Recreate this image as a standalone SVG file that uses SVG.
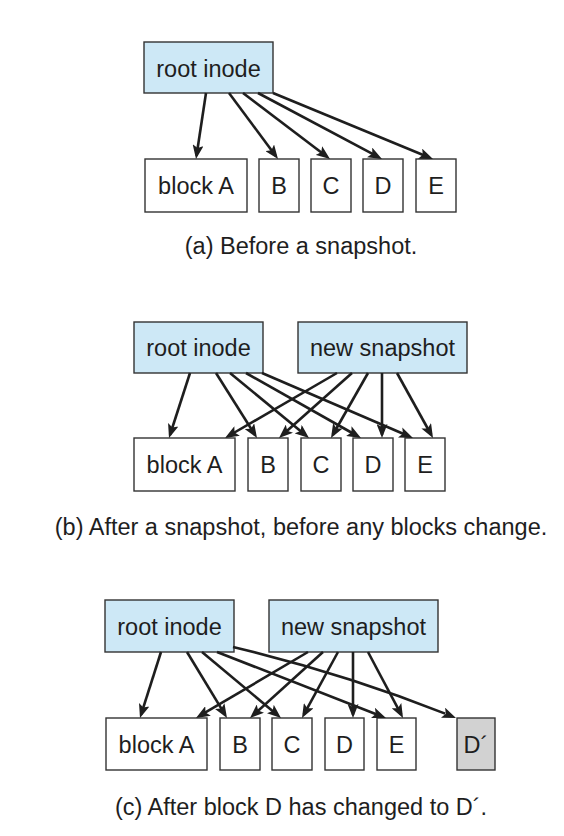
<svg xmlns="http://www.w3.org/2000/svg" width="564" height="836" viewBox="0 0 564 836">
<style>
.box{fill:#ffffff;stroke:#333333;stroke-width:1.4}
.blue{fill:#cde8f6;stroke:#333333;stroke-width:1.4}
.gray{fill:#d2d2d2;stroke:#333333;stroke-width:1.4}
text{font-family:"Liberation Sans",Arial,Helvetica,sans-serif;font-size:23.5px;fill:#1e1e1e;text-anchor:middle}
.c{fill:none;stroke:#1e1e1e;stroke-width:2.6;stroke-dasharray:95 100;marker-end:url(#ah)}
</style>
<defs>
<marker id="ah" markerUnits="userSpaceOnUse" markerWidth="14" markerHeight="11" refX="14" refY="5.5" orient="auto" viewBox="0 0 14 11">
<path d="M0,0 L14,5.5 L0,11 L3,5.5 Z" fill="#1e1e1e"/>
</marker>
</defs>
<rect width="564" height="836" fill="#ffffff"/>

<!-- (a) -->
<g id="a-root"><rect class="blue" x="144" y="42" width="129" height="51"/><text x="208.5" y="76.5">root inode</text></g>
<g id="a-blockA"><rect class="box" x="145" y="159" width="102" height="53"/><text x="196" y="194">block A</text></g>
<g id="a-B"><rect class="box" x="259" y="159" width="40" height="53"/><text x="279" y="194">B</text></g>
<g id="a-C"><rect class="box" x="311" y="159" width="40" height="53"/><text x="331" y="194">C</text></g>
<g id="a-D"><rect class="box" x="363" y="159" width="40" height="53"/><text x="383" y="194">D</text></g>
<g id="a-E"><rect class="box" x="416" y="159" width="40" height="53"/><text x="436" y="194">E</text></g>
<g id="a-connectors">
<path class="c" pathLength="100" d="M206,93 L196,159"/>
<path class="c" pathLength="100" d="M229,93 L278,159"/>
<path class="c" pathLength="100" d="M243,93 L330,159"/>
<path class="c" pathLength="100" d="M258,93 L382,159"/>
<path class="c" pathLength="100" d="M273,93 L433,159"/>
</g>
<text id="a-caption" x="301" y="254">(a) Before a snapshot.</text>

<!-- (b) -->
<g id="b-root"><rect class="blue" x="134" y="322" width="129" height="51"/><text x="198.5" y="356">root inode</text></g>
<g id="b-snap"><rect class="blue" x="298" y="322" width="169" height="51"/><text x="382.5" y="356">new snapshot</text></g>
<g id="b-blockA"><rect class="box" x="134" y="438" width="101" height="53"/><text x="184.5" y="473">block A</text></g>
<g id="b-B"><rect class="box" x="248" y="438" width="40" height="53"/><text x="268" y="473">B</text></g>
<g id="b-C"><rect class="box" x="301" y="438" width="40" height="53"/><text x="321" y="473">C</text></g>
<g id="b-D"><rect class="box" x="353" y="438" width="40" height="53"/><text x="373" y="473">D</text></g>
<g id="b-E"><rect class="box" x="405" y="438" width="40" height="53"/><text x="425" y="473">E</text></g>
<g id="b-connectors">
<path class="c" pathLength="100" d="M190,373 L169,438"/>
<path class="c" pathLength="100" d="M216,373 L257,438"/>
<path class="c" pathLength="100" d="M230,373 L309,438"/>
<path class="c" pathLength="100" d="M246,373 L361,438"/>
<path class="c" pathLength="100" d="M262,373 L413,438"/>
<path class="c" pathLength="100" d="M337,373 L225,438"/>
<path class="c" pathLength="100" d="M352,373 L279,438"/>
<path class="c" pathLength="100" d="M368,373 L331,438"/>
<path class="c" pathLength="100" d="M382,373 L382,438"/>
<path class="c" pathLength="100" d="M397,373 L433,438"/>
</g>
<text id="b-caption" x="301" y="535">(b) After a snapshot, before any blocks change.</text>

<!-- (c) -->
<g id="c-root"><rect class="blue" x="105" y="600" width="129" height="52"/><text x="169.5" y="635">root inode</text></g>
<g id="c-snap"><rect class="blue" x="269" y="600" width="169" height="52"/><text x="353.5" y="635">new snapshot</text></g>
<g id="c-blockA"><rect class="box" x="106" y="718" width="101" height="52"/><text x="156.5" y="752.5">block A</text></g>
<g id="c-B"><rect class="box" x="220" y="718" width="40" height="52"/><text x="240" y="752.5">B</text></g>
<g id="c-C"><rect class="box" x="272" y="718" width="40" height="52"/><text x="292" y="752.5">C</text></g>
<g id="c-D"><rect class="box" x="325" y="718" width="39" height="52"/><text x="344.5" y="752.5">D</text></g>
<g id="c-E"><rect class="box" x="377" y="718" width="39" height="52"/><text x="396.5" y="752.5">E</text></g>
<g id="c-Dprime"><rect class="gray" x="457" y="718" width="38" height="52"/><text x="476" y="752.5">D´</text></g>
<g id="c-connectors">
<path class="c" pathLength="100" d="M161,652 L140,718"/>
<path class="c" pathLength="100" d="M187,652 L227,718"/>
<path class="c" pathLength="100" d="M202,652 L281,718"/>
<path class="c" pathLength="100" d="M217,652 L386,718"/>
<path class="c" pathLength="100" d="M233,647 Q350,675 456,718"/>
<path class="c" pathLength="100" d="M308,652 L196,718"/>
<path class="c" pathLength="100" d="M323,652 L250,718"/>
<path class="c" pathLength="100" d="M338,652 L302,718"/>
<path class="c" pathLength="100" d="M353,652 L353,718"/>
<path class="c" pathLength="100" d="M368,652 L403,718"/>
</g>
<text id="c-caption" x="301" y="815">(c) After block D has changed to D´.</text>
</svg>
